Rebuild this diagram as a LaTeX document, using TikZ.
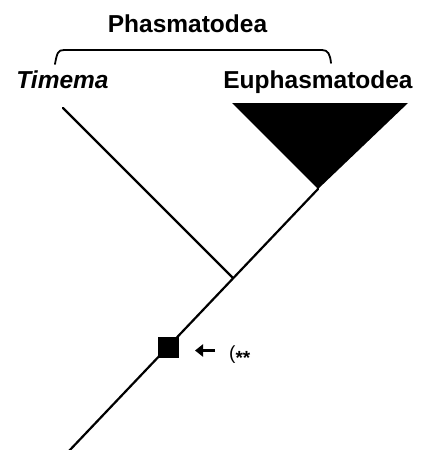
\documentclass[tikz,border=0pt]{standalone}
\usepackage{fontspec}
\setmainfont{Liberation Sans}
\usetikzlibrary{arrows.meta}
\begin{document}
\begin{tikzpicture}[x=1pt,y=-1pt,
  lbl/.style={inner sep=0pt,anchor=base,font=\fontsize{24.5}{26}\selectfont\bfseries},
  branch/.style={line width=2.2pt,line cap=round},
  brk/.style={line width=1.8pt,line join=round,line cap=round}]
\useasboundingbox (0,0) rectangle (424,450);
% labels
\node[lbl] (phas) at (187.5,32) {Phasmatodea};
\node[lbl] (tim) at (62.5,88) {\itshape Timema};
\node[lbl] (euph) at (318,88) {Euphasmatodea};
% bracket
\coordinate (bl) at (55,64);
\coordinate (br) at (331,63);
\draw[brk] (bl) .. controls (57,53) and (58,50) .. (64,50) -- (322,50) .. controls (328,50) and (330,54) .. (br);
% clade triangle
\coordinate (tl) at (232,103);
\coordinate (tr) at (408,103);
\coordinate (apex) at (318,189);
\fill (tl) -- (tr) -- (apex) -- cycle;
% branches
\coordinate (timtip) at (63,108);
\coordinate (join) at (233,278);
\coordinate (root) at (68,452);
\draw[branch] (timtip) -- (join);
\draw[branch] (apex) -- (root);
% character square
\node[fill=black,minimum size=21pt,inner sep=0pt] (sq) at (168,347.5) {};
% arrow and mark
\coordinate (ah) at (195,350.5);
\coordinate (at) at (215,350.5);
\draw[line width=2.6pt,-{Triangle[length=8pt,width=12pt]}] (at) -- (ah);
\node[inner sep=0pt,anchor=west,font=\fontsize{19}{20}\selectfont] (mark) at (229,355) {(\raisebox{-0.28em}{\bfseries **}};
\end{tikzpicture}
\end{document}
